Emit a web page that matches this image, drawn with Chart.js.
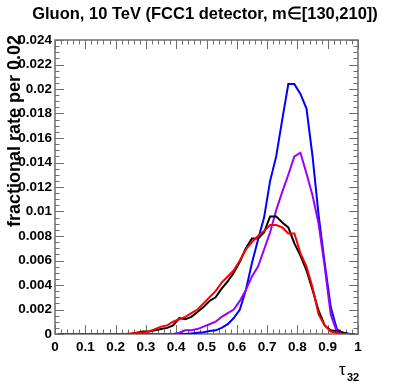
<!DOCTYPE html>
<html>
<head>
<meta charset="utf-8">
<script src="https://cdn.jsdelivr.net/npm/chart.js@4/dist/chart.umd.min.js"></script>
<style>
  body { margin: 0; background: #fff; }
  canvas { display: block; }
</style>
</head>
<body>
<canvas id="tauChart" width="399" height="385"></canvas>
<script>
// bin centres of tau32 (bin width 0.02)
const binCenters = [
  0.01, 0.03, 0.05, 0.07, 0.09, 0.11, 0.13, 0.15, 0.17, 0.19,
  0.21, 0.23, 0.25, 0.27, 0.29, 0.31, 0.33, 0.35, 0.37, 0.39,
  0.41, 0.43, 0.45, 0.47, 0.49, 0.51, 0.53, 0.55, 0.57, 0.59,
  0.61, 0.63, 0.65, 0.67, 0.69, 0.71, 0.73, 0.75, 0.77, 0.79,
  0.81, 0.83, 0.85, 0.87, 0.89, 0.91, 0.93, 0.95, 0.97, 0.99
];

const blueRate = [
  0, 0, 0, 0, 0, 0, 0, 0, 0, 0,
  0, 0, 0, 0, 0, 0, 0, 0, 0, 0,
  0, 0, 0.00005, 0.0001, 0.00015, 0.00025, 0.0003, 0.0005, 0.0008, 0.0013,
  0.0020, 0.0036, 0.0058, 0.0077, 0.0095, 0.0125, 0.0145, 0.0175, 0.0204, 0.0204,
  0.0196, 0.0184, 0.0145, 0.0097, 0.0058, 0.0022, 0.0004, 0.0001, 0, 0
];

const purpleRate = [
  0, 0, 0, 0, 0, 0, 0, 0, 0, 0,
  0, 0, 0, 0, 0, 0, 0, 0, 0, 0,
  0.0001, 0.0003, 0.0003, 0.0004, 0.0006, 0.0008, 0.0010, 0.0014, 0.0017, 0.0020,
  0.0027, 0.0036, 0.0047, 0.0055, 0.0069, 0.0083, 0.0101, 0.0116, 0.0130, 0.0145,
  0.0148, 0.0131, 0.0113, 0.0090, 0.0055, 0.0016, 0.0002, 0.0001, 0, 0
];

const blackRate = [
  0, 0, 0, 0, 0, 0, 0, 0, 0, 0,
  0, 0, 0, 0.0001, 0.0002, 0.0002, 0.0003, 0.0004, 0.0005, 0.0007,
  0.0013, 0.0012, 0.0014, 0.0018, 0.0022, 0.0027, 0.0030, 0.0037, 0.0043, 0.0050,
  0.0059, 0.0070, 0.0078, 0.0078, 0.0083, 0.0096, 0.0096, 0.0091, 0.0087, 0.0074,
  0.0064, 0.0052, 0.0036, 0.0019, 0.0007, 0.0003, 0.0002, 0.0001, 0, 0
];

const redRate = [
  0, 0, 0, 0, 0, 0, 0, 0, 0, 0,
  0, 0, 0.00005, 0.0001, 0.0001, 0.0002, 0.0004, 0.0006, 0.0007, 0.0010,
  0.0012, 0.0014, 0.0017, 0.0020, 0.0025, 0.0030, 0.0035, 0.0042, 0.0047, 0.0052,
  0.0060, 0.0069, 0.0075, 0.0080, 0.0084, 0.0089, 0.0089, 0.0087, 0.0082, 0.0082,
  0.0066, 0.0055, 0.0038, 0.0016, 0.0007, 0.0002, 0.0001, 0, 0, 0
];

const xTickValues = [0, 0.1, 0.2, 0.3, 0.4, 0.5, 0.6, 0.7, 0.8, 0.9, 1];
const xTickLabels = ["0", "0.1", "0.2", "0.3", "0.4", "0.5", "0.6", "0.7", "0.8", "0.9", "1"];
const yTickValues = [0, 0.002, 0.004, 0.006, 0.008, 0.01, 0.012, 0.014, 0.016, 0.018, 0.02, 0.022, 0.024];
const yTickLabels = ["0", "0.002", "0.004", "0.006", "0.008", "0.01", "0.012", "0.014", "0.016", "0.018", "0.02", "0.022", "0.024"];

const titleText = "Gluon, 10 TeV (FCC1 detector, m\u2208[130,210])";
const yTitle = "fractional rate per 0.02";

const FONT = "'Liberation Sans', Arial, Helvetica, sans-serif";

const toPoints = (vals) => vals.map((v, i) => ({ x: binCenters[i], y: v }));

// frame, inward ticks on all four sides, titles (ROOT style)
const rootFrame = {
  id: "rootFrame",
  beforeDatasetsDraw(chart) {
    const { ctx, chartArea: a, scales } = chart;
    const xs = scales.x, ys = scales.y;
    ctx.save();
    ctx.strokeStyle = "#6e6e6e";
    ctx.lineWidth = 1.5;
    ctx.strokeRect(a.left, a.top, a.right - a.left, a.bottom - a.top);
    ctx.lineWidth = 1;
    ctx.beginPath();
    // x ticks: major 0.1, minor 0.02
    for (let k = 0; k <= 50; k++) {
      const px = Math.round(xs.getPixelForValue(k * 0.02)) + 0.5;
      const len = k % 5 === 0 ? 9 : 4.5;
      ctx.moveTo(px, a.bottom); ctx.lineTo(px, a.bottom - len);
      ctx.moveTo(px, a.top); ctx.lineTo(px, a.top + len);
    }
    // y ticks: major 0.002, minor 0.0005
    for (let k = 0; k <= 48; k++) {
      const py = Math.round(ys.getPixelForValue(k * 0.0005)) + 0.5;
      const len = k % 4 === 0 ? 9 : 4.5;
      ctx.moveTo(a.left, py); ctx.lineTo(a.left + len, py);
      ctx.moveTo(a.right, py); ctx.lineTo(a.right - len, py);
    }
    ctx.stroke();
    ctx.restore();
  },
  afterDraw(chart) {
    const { ctx } = chart;
    ctx.save();
    ctx.fillStyle = "#000";
    ctx.textBaseline = "alphabetic";
    ctx.font = "bold 16.5px " + FONT;
    ctx.textAlign = "center";
    ctx.fillText(titleText, 205, 19);

    // y axis title, aligned to the top end of the axis
    ctx.save();
    ctx.translate(19.5, 35);
    ctx.rotate(-Math.PI / 2);
    ctx.font = "bold 18px " + FONT;
    ctx.textAlign = "right";
    ctx.fillText(yTitle, 0, 0);
    ctx.restore();

    // x axis title tau_32
    ctx.textAlign = "left";
    ctx.font = "17px " + FONT;
    ctx.fillText("\u03c4", 339, 375);
    ctx.font = "bold 11px " + FONT;
    ctx.fillText("32", 347, 381);
    ctx.restore();
  }
};

new Chart(document.getElementById("tauChart"), {
  type: "line",
  data: {
    datasets: [
      { label: "red", data: toPoints(redRate), borderColor: "#ff0000" },
      { label: "black", data: toPoints(blackRate), borderColor: "#000000" },
      { label: "purple", data: toPoints(purpleRate), borderColor: "#9a00ff" },
      { label: "blue", data: toPoints(blueRate), borderColor: "#0000ff" }
    ]
  },
  options: {
    responsive: false,
    animation: false,
    devicePixelRatio: 1,
    layout: { padding: { top: 40, right: 41, left: 0, bottom: 0 } },
    elements: {
      point: { radius: 0 },
      line: { borderWidth: 2, tension: 0, fill: false }
    },
    plugins: {
      legend: { display: false },
      tooltip: { enabled: false },
      title: { display: false }
    },
    scales: {
      x: {
        type: "linear",
        min: 0,
        max: 1,
        border: { display: false },
        grid: { display: false, drawTicks: false },
        afterBuildTicks: (s) => { s.ticks = xTickValues.map((v) => ({ value: v })); },
        afterFit: (s) => { s.height = 51; },
        ticks: {
          padding: 5,
          maxRotation: 0,
          autoSkip: false,
          color: "#000",
          font: { family: FONT, size: 13.5, weight: "bold" },
          callback: (v, i) => xTickLabels[i]
        }
      },
      y: {
        min: 0,
        max: 0.024,
        border: { display: false },
        grid: { display: false, drawTicks: false },
        afterBuildTicks: (s) => { s.ticks = yTickValues.map((v) => ({ value: v })); },
        afterFit: (s) => { s.width = 55; },
        ticks: {
          padding: 3,
          autoSkip: false,
          color: "#000",
          font: { family: FONT, size: 13.5, weight: "bold" },
          callback: (v, i) => yTickLabels[i]
        }
      }
    }
  },
  plugins: [rootFrame]
});
</script>
</body>
</html>
